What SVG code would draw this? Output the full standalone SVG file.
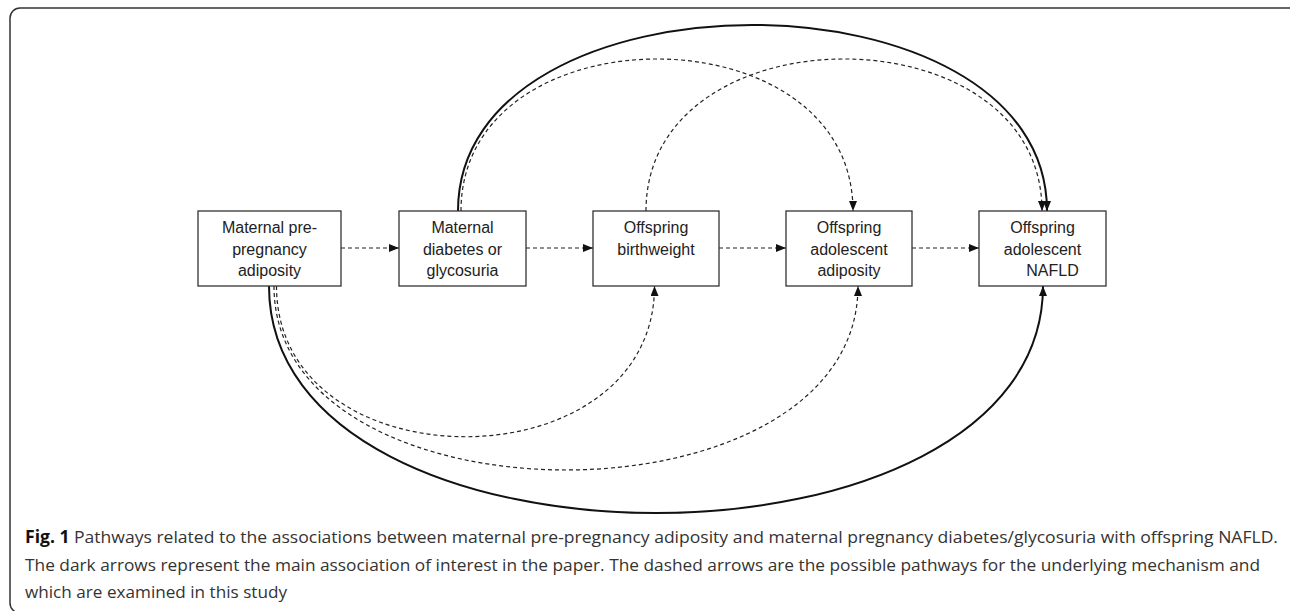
<svg xmlns="http://www.w3.org/2000/svg" width="1290" height="611" viewBox="0 0 1290 611">
<style>
.box{fill:#fff;stroke:#333;stroke-width:1.3}
.lbl{font-family:"Liberation Sans",Arial,sans-serif;font-size:16px;fill:#222;text-anchor:middle}
.dash{fill:none;stroke:#222;stroke-width:1.2;stroke-dasharray:4 3}
.solid{fill:none;stroke:#111;stroke-width:2}
.cap{font-family:"Open Sans","Liberation Sans",sans-serif;font-size:17px;fill:#333}
</style>
<defs>
<marker id="ah" markerUnits="userSpaceOnUse" markerWidth="10" markerHeight="8" refX="10" refY="4" orient="auto">
<path d="M0,0 L10,4 L0,8 z" fill="#111"/>
</marker>
</defs>
<rect x="10" y="8" width="1300" height="605" rx="10" fill="none" stroke="#333" stroke-width="1.5"/>
<g id="connectors">
<path class="dash" d="M341,248 H399" marker-end="url(#ah)"/>
<path class="dash" d="M526,248 H593" marker-end="url(#ah)"/>
<path class="dash" d="M719,248 H786" marker-end="url(#ah)"/>
<path class="dash" d="M912,248 H979" marker-end="url(#ah)"/>
<path class="solid" d="M458,211 C458,-37 1047,-37 1047,211" marker-end="url(#ah)"/>
<path class="dash" d="M461,211 C461,8.3 853,8.3 853,211" marker-end="url(#ah)"/>
<path class="dash" d="M646,211 C646,8.3 1042,8.3 1042,211" marker-end="url(#ah)"/>
<path class="solid" d="M269,286 C269,588.7 1043,588.7 1043,286" marker-end="url(#ah)"/>
<path class="dash" d="M274,286 C274,531.3 858,531.3 858,286" marker-end="url(#ah)"/>
<path class="dash" d="M276.5,286 C276.5,487 654.5,487 654.5,286" marker-end="url(#ah)"/>
</g>
<g id="n1">
<rect class="box" x="198" y="211" width="143" height="75"/>
<text class="lbl" x="269.5" y="233">Maternal pre-</text>
<text class="lbl" x="269.5" y="254.5">pregnancy</text>
<text class="lbl" x="269.5" y="276">adiposity</text>
</g>
<g id="n2">
<rect class="box" x="399" y="211" width="127" height="75"/>
<text class="lbl" x="462.5" y="233">Maternal</text>
<text class="lbl" x="462.5" y="254.5">diabetes or</text>
<text class="lbl" x="462.5" y="276">glycosuria</text>
</g>
<g id="n3">
<rect class="box" x="593" y="211" width="126" height="75"/>
<text class="lbl" x="656" y="233">Offspring</text>
<text class="lbl" x="656" y="254.5">birthweight</text>
</g>
<g id="n4">
<rect class="box" x="786" y="211" width="126" height="75"/>
<text class="lbl" x="849" y="233">Offspring</text>
<text class="lbl" x="849" y="254.5">adolescent</text>
<text class="lbl" x="849" y="276">adiposity</text>
</g>
<g id="n5">
<rect class="box" x="979" y="211" width="127" height="75"/>
<text class="lbl" x="1042.5" y="233">Offspring</text>
<text class="lbl" x="1042.5" y="254.5">adolescent</text>
<text class="lbl" x="1052.5" y="276">NAFLD</text>
</g>
<g id="caption">
<text class="cap" x="25" y="543" textLength="1253" lengthAdjust="spacingAndGlyphs"><tspan font-weight="bold" fill="#111">Fig. 1</tspan> Pathways related to the associations between maternal pre-pregnancy adiposity and maternal pregnancy diabetes/glycosuria with offspring NAFLD.</text>
<text class="cap" x="25" y="570.5" textLength="1235" lengthAdjust="spacingAndGlyphs">The dark arrows represent the main association of interest in the paper. The dashed arrows are the possible pathways for the underlying mechanism and</text>
<text class="cap" x="25" y="598" textLength="262" lengthAdjust="spacingAndGlyphs">which are examined in this study</text>
</g>
</svg>
